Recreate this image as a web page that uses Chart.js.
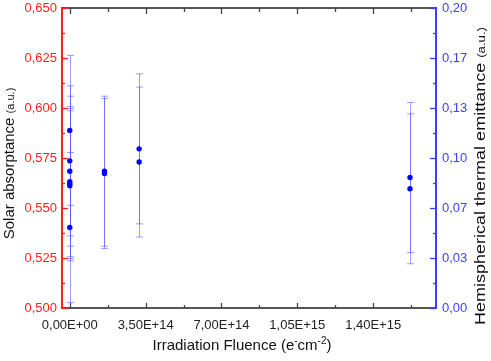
<!DOCTYPE html>
<html>
<head>
<meta charset="utf-8">
<script src="https://cdn.jsdelivr.net/npm/chart.js@4.4.0/dist/chart.umd.min.js"></script>
<style>
  body { margin: 0; background: #fff; }
  #wrap { width: 491px; height: 361px; position: relative; }
</style>
</head>
<body>
<div id="wrap"><canvas id="myChart"></canvas></div>
<script>
// fluence (e-/cm2) of each measurement
const fluence = [0, 0, 0, 0, 0, 0, 0, 1.6e14, 1.6e14, 3.2e14, 3.2e14, 1.57e15, 1.57e15]
// hemispherical thermal emittance
const emittance = [0.1184, 0.0981, 0.0912, 0.0842, 0.0829, 0.0815, 0.0537, 0.0912, 0.0896, 0.1061, 0.0973, 0.0870, 0.0795]
const emittanceErr = [0.05, 0.05, 0.05, 0.05, 0.05, 0.05, 0.05, 0.05, 0.05, 0.05, 0.05, 0.05, 0.05]

// axis ticks / labels
const fluenceTicks = [0, 3.5e14, 7.0e14, 1.05e15, 1.4e15]
const fluenceLabels = ['0,00E+00', '3,50E+14', '7,00E+14', '1,05E+15', '1,40E+15']
const absorptanceLabels = ['0,500', '0,525', '0,550', '0,575', '0,600', '0,625', '0,650']
const emittanceLabels = ['0,00', '0,03', '0,07', '0,10', '0,13', '0,17', '0,20']

const RED = '#ff1f1f'
const BLUE = '#3d3dff'
const FONT = '"Liberation Sans", Arial, sans-serif'

// error bars for the scatter points
const errorBars = {
  id: 'errorBars',
  beforeDatasetsDraw(chart) {
    const ctx = chart.ctx
    const xs = chart.scales.x
    const ys = chart.scales.y1
    ctx.save()
    ctx.strokeStyle = 'rgba(90,90,255,0.6)'
    ctx.lineWidth = 1
    for (let i = 0; i < fluence.length; i++) {
      let px = Math.round(xs.getPixelForValue(fluence[i])) + 0.5
      let top = ys.getPixelForValue(emittance[i] + emittanceErr[i])
      let bot = ys.getPixelForValue(emittance[i] - emittanceErr[i])
      ctx.beginPath()
      ctx.moveTo(px, top); ctx.lineTo(px, bot)
      ctx.moveTo(px - 3.5, top); ctx.lineTo(px + 3.5, top)
      ctx.moveTo(px - 3.5, bot); ctx.lineTo(px + 3.5, bot)
      ctx.stroke()
    }
    ctx.restore()
  }
}

// inward ticks, top frame line and the axis titles
function tickValues(scale, half) {
  let vals = scale.ticks.map(t => t.value)
  let step = vals[1] - vals[0]
  let out = []
  let start = half ? vals[0] - step / 2 : vals[0]
  for (let v = start; v <= scale.max + 1e-9 * Math.abs(step); v += step) {
    if (v >= scale.min - 1e-9 * Math.abs(step)) out.push(v)
  }
  return out
}

const frame = {
  id: 'frame',
  afterDraw(chart) {
    const ctx = chart.ctx
    const a = chart.chartArea
    const xs = chart.scales.x, yl = chart.scales.y, yr = chart.scales.y1
    ctx.save()
    // top line
    ctx.strokeStyle = '#555'
    ctx.lineWidth = 2
    ctx.beginPath(); ctx.moveTo(a.left, a.top); ctx.lineTo(a.right, a.top); ctx.stroke()

    ctx.lineWidth = 1.3
    // x ticks, bottom and top
    ctx.strokeStyle = '#444'
    ;[[false, 5], [true, 3]].forEach(([half, len]) => {
      tickValues(xs, half).forEach(v => {
        let p = Math.round(xs.getPixelForValue(v)) + 0.5
        ctx.beginPath()
        ctx.moveTo(p, a.bottom); ctx.lineTo(p, a.bottom - len)
        ctx.moveTo(p, a.top); ctx.lineTo(p, a.top + len + 1)
        ctx.stroke()
      })
    })
    // left ticks
    ctx.strokeStyle = RED
    ;[[false, 6], [true, 3]].forEach(([half, len]) => {
      tickValues(yl, half).forEach(v => {
        let p = Math.round(yl.getPixelForValue(v)) + 0.5
        ctx.beginPath(); ctx.moveTo(a.left, p); ctx.lineTo(a.left + len, p); ctx.stroke()
      })
    })
    // right ticks
    ctx.strokeStyle = BLUE
    ;[[false, 6], [true, 3]].forEach(([half, len]) => {
      tickValues(yr, half).forEach(v => {
        let p = Math.round(yr.getPixelForValue(v)) + 0.5
        ctx.beginPath(); ctx.moveTo(a.right, p); ctx.lineTo(a.right - len, p); ctx.stroke()
      })
    })

    ctx.fillStyle = '#111'
    ctx.textBaseline = 'alphabetic'
    // left title
    drawVertical(ctx, 8, 163.5, 'Solar absorptance ', '(a.u.)', 15, 11, 0)
    // right title
    drawVertical(ctx, 479, 176, 'Hemispherical thermal emittance ', '(a.u.)', 15, 11, 298)

    // x title with superscripts
    let parts = [['Irradiation Fluence (e', 15, 0], ['-', 10, -6], ['cm', 15, 0], ['-2', 10, -6], [')', 15, 0]]
    let w = 0
    parts.forEach(p => { ctx.font = p[1] + 'px ' + FONT; w += ctx.measureText(p[0]).width })
    let x = 242 - w / 2
    parts.forEach(p => {
      ctx.font = p[1] + 'px ' + FONT
      ctx.fillText(p[0], x, 350 + p[2])
      x += ctx.measureText(p[0]).width
    })
    ctx.restore()
  }
}

function drawVertical(ctx, cx, cy, main, small, size, smallSize, targetLen) {
  ctx.save()
  ctx.translate(cx, cy)
  ctx.rotate(-Math.PI / 2)
  ctx.font = size + 'px ' + FONT
  let w1 = ctx.measureText(main).width
  ctx.font = smallSize + 'px ' + FONT
  let w2 = ctx.measureText(small).width
  let w = w1 + w2
  if (targetLen) ctx.scale(targetLen / w, 1)
  ctx.font = size + 'px ' + FONT
  ctx.fillText(main, -w / 2, 5.5)
  ctx.font = smallSize + 'px ' + FONT
  ctx.fillText(small, -w / 2 + w1, 5.5)
  ctx.restore()
}

function fixY(width) {
  return s => {
    s.width = width
    s.paddingTop = 0
    s.paddingBottom = 0
  }
}

const data = {
  datasets: [{
    label: 'Hemispherical thermal emittance',
    data: fluence.map((f, i) => ({ x: f, y: emittance[i] })),
    yAxisID: 'y1',
    backgroundColor: '#0000ff',
    borderColor: '#0000ff',
    borderWidth: 0,
    pointRadius: 2.7,
    showLine: false
  }]
}

const config = {
  type: 'scatter',
  data,
  options: {
    responsive: true,
    maintainAspectRatio: false,
    animation: false,
    layout: { padding: { top: 8, left: 0, right: 0, bottom: 0 } },
    plugins: { legend: { display: false }, tooltip: { enabled: false } },
    scales: {
      x: {
        type: 'linear',
        min: -3.6e13,
        max: 1.69e15,
        afterBuildTicks: s => { s.ticks = fluenceTicks.map(v => ({ value: v })) },
        afterFit: s => { s.height = 53 },
        grid: { display: false, drawTicks: false },
        border: { display: true, color: '#555', width: 2 },
        ticks: {
          color: '#222',
          padding: 10,
          maxRotation: 0,
          autoSkip: false,
          font: { family: FONT, size: 13 },
          callback: (v, i) => fluenceLabels[i]
        }
      },
      y: {
        type: 'linear',
        position: 'left',
        min: 0.5,
        max: 0.65,
        afterFit: fixY(62),
        grid: { display: false, drawTicks: false },
        border: { display: true, color: RED, width: 2 },
        ticks: {
          count: 7,
          color: RED,
          padding: 5,
          font: { family: FONT, size: 13 },
          callback: (v, i) => absorptanceLabels[i]
        }
      },
      y1: {
        type: 'linear',
        position: 'right',
        min: 0,
        max: 0.2,
        afterFit: fixY(55),
        grid: { display: false, drawTicks: false },
        border: { display: true, color: BLUE, width: 2 },
        ticks: {
          count: 7,
          color: BLUE,
          padding: 6,
          font: { family: FONT, size: 13 },
          callback: (v, i) => emittanceLabels[i]
        }
      }
    }
  },
  plugins: [errorBars, frame]
}

var myChart = new Chart(document.getElementById('myChart'), config)
</script>
</body>
</html>
